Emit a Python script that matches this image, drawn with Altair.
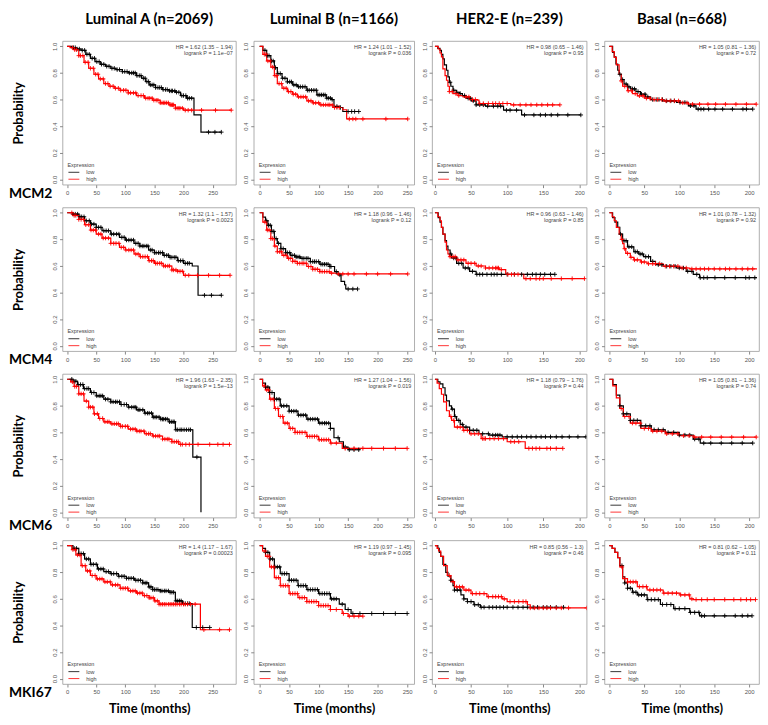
import altair as alt
import pandas as pd

TITLE_FONT = "Lato"
SMALL_FONT = "Liberation Sans"

COL_TITLES = ["Luminal A (n=2069)", "Luminal B (n=1166)", "HER2-E (n=239)", "Basal (n=668)"]
ROW_GENES = ["MCM2", "MCM4", "MCM6", "MKI67"]
X_DOMAINS = [[-8, 290], [-10, 262], [-4, 210], [-7, 214]]
X_TICKS = [[0, 50, 100, 150, 200, 250], [0, 50, 100, 150, 200, 250],
           [0, 50, 100, 150, 200], [0, 50, 100, 150, 200]]
Y_TICKS = [0.0, 0.2, 0.4, 0.6, 0.8, 1.0]
WIDTHS = [175, 162, 156, 156]
H = 145

# ---------------- MCM2 ----------------
M2_LA_LOW = [(0, 1.0), (8, 0.99), (16, 0.98), (24, 0.97), (32, 0.94), (40, 0.91), (48, 0.885), (57, 0.865),
             (66, 0.85), (75, 0.835), (84, 0.825), (95, 0.81), (105, 0.8), (119, 0.78), (128, 0.76), (135, 0.735),
             (141, 0.71), (152, 0.69), (164, 0.675), (175, 0.665), (186, 0.655), (195, 0.63), (205, 0.61),
             (218, 0.485), (230, 0.355), (265, 0.355)]
M2_LA_HIGH = [(0, 1.0), (5, 0.99), (12, 0.975), (20, 0.93), (29, 0.88), (37, 0.835), (46, 0.79), (54, 0.755),
              (63, 0.72), (72, 0.7), (81, 0.685), (91, 0.67), (105, 0.65), (119, 0.63), (133, 0.61), (147, 0.595),
              (160, 0.575), (175, 0.56), (186, 0.535), (200, 0.52), (282, 0.52)]
M2_LA_LOW_C = [11, 14, 17, 21, 26, 30, 34, 38, 43, 47, 51, 55, 59, 63, 68, 72, 77, 81, 86, 90, 95, 99, 103, 107,
               111, 114, 117, 120, 124, 127, 131, 134, 137, 140, 143, 146, 149, 152, 156, 159, 162, 165, 169, 172,
               176, 179, 181, 185, 188, 192, 197, 200, 204, 207, 210, 214, 243, 254, 265]
M2_LA_HIGH_C = [9, 13, 16, 20, 23, 27, 31, 36, 40, 45, 49, 53, 57, 62, 66, 70, 74, 79, 83, 88, 92, 97, 101, 105,
                109, 114, 118, 122, 127, 131, 135, 139, 142, 146, 149, 153, 156, 160, 163, 166, 168, 171, 174, 177,
                179, 181, 183, 186, 189, 192, 194, 198, 203, 208, 214, 231, 255, 282]

M2_LB_LOW = [(0, 1.0), (5.5, 0.97), (12, 0.93), (19, 0.89), (25, 0.84), (30, 0.795), (38, 0.76), (47, 0.733),
             (56, 0.71), (64, 0.696), (80, 0.67), (97, 0.635), (113, 0.61), (122, 0.6), (126, 0.548), (135, 0.54),
             (141, 0.51), (168, 0.51)]
M2_LB_HIGH = [(0, 1.0), (5.5, 0.94), (12, 0.89), (19, 0.844), (25, 0.78), (30, 0.72), (38, 0.685), (47, 0.66),
              (56, 0.64), (64, 0.62), (80, 0.59), (90, 0.575), (102, 0.56), (124, 0.54), (141, 0.523),
              (147.5, 0.454), (251, 0.454)]
M2_LB_LOW_C = [9, 13, 16, 20, 23, 27, 31, 35, 39, 43, 47, 51, 54, 58, 62, 66, 69, 73, 77, 81, 84, 88, 92, 96, 99,
               102, 105, 108, 111, 114, 117, 120, 123, 131, 137, 150, 156, 161, 168]
M2_LB_HIGH_C = [8, 11, 14, 18, 22, 26, 29, 33, 37, 41, 45, 49, 53, 57, 61, 66, 70, 74, 78, 83, 87, 91, 95, 100,
                104, 108, 112, 116, 119, 123, 127, 131, 135, 152, 158, 163, 175, 214, 251]

M2_H2_LOW = [(0, 1.0), (4, 0.985), (7, 0.97), (9, 0.94), (11, 0.905), (13, 0.86), (16, 0.82), (18, 0.77),
             (20, 0.73), (22, 0.70), (25, 0.67), (30, 0.655), (34, 0.645), (38, 0.63), (43, 0.61), (50, 0.59),
             (57, 0.56), (70, 0.55), (95, 0.52), (120, 0.484), (202, 0.484)]
M2_H2_HIGH = [(0, 1.0), (4.5, 0.98), (7, 0.95), (9, 0.92), (11, 0.83), (14, 0.78), (16, 0.745), (18, 0.70),
              (20, 0.66), (25, 0.645), (32, 0.63), (39, 0.62), (48, 0.60), (59, 0.595), (61, 0.57), (105, 0.56),
              (173, 0.56)]
M2_H2_LOW_C = [21, 26, 30, 35, 41, 46, 49, 53, 57, 62, 67, 73, 81, 87, 91, 99, 104, 113, 124, 137, 146, 153, 161,
               170, 184, 202]
M2_H2_HIGH_C = [20, 24, 29, 33, 43, 47, 52, 56, 62, 67, 74, 80, 84, 89, 94, 100, 109, 118, 126, 133, 141, 148, 156,
                163, 173]

M2_BA_LOW = [(0, 1.0), (4.7, 0.955), (7, 0.92), (9.4, 0.867), (12, 0.82), (14, 0.79), (17, 0.75), (21, 0.716),
             (26, 0.695), (30.5, 0.68), (38, 0.66), (44.6, 0.64), (52, 0.62), (59, 0.6), (77, 0.59), (96, 0.578),
             (113, 0.553), (124, 0.528), (205, 0.528)]
M2_BA_HIGH = [(0, 1.0), (4, 0.96), (7, 0.917), (10, 0.86), (14, 0.79), (17, 0.74), (19, 0.70), (26, 0.666),
              (33, 0.645), (40, 0.628), (50, 0.61), (59, 0.6), (77, 0.59), (101, 0.575), (113, 0.565), (210, 0.565)]
M2_BA_LOW_C = [15, 19, 24, 28, 33, 36, 41, 46, 51, 55, 62, 67, 71, 76, 82, 88, 93, 101, 108, 116, 121, 127, 131,
               135, 142, 151, 162, 176, 191, 196, 205]
M2_BA_HIGH_C = [17, 22, 27, 32, 37, 43, 48, 53, 58, 64, 69, 75, 81, 87, 93, 99, 105, 111, 119, 129, 141, 152, 166,
                181, 196, 210]

# ---------------- MCM4 ----------------
M4_LA_LOW = [(0, 1.0), (10, 0.99), (20, 0.97), (30, 0.94), (40, 0.915), (50, 0.89), (60, 0.865), (75, 0.84),
             (90, 0.815), (100, 0.795), (115, 0.77), (125, 0.75), (140, 0.72), (150, 0.7), (165, 0.68),
             (175, 0.665), (190, 0.64), (200, 0.62), (215, 0.6), (225, 0.38), (265, 0.38)]
M4_LA_HIGH = [(0, 1.0), (10, 0.98), (20, 0.95), (30, 0.91), (40, 0.87), (50, 0.84), (60, 0.81), (75, 0.77),
              (90, 0.74), (100, 0.72), (115, 0.69), (125, 0.67), (140, 0.64), (150, 0.62), (165, 0.6), (180, 0.57),
              (190, 0.56), (200, 0.53), (280, 0.53)]
M4_LA_LOW_C = [10, 14, 18, 22, 25, 29, 33, 38, 42, 46, 50, 54, 58, 63, 67, 71, 76, 80, 85, 89, 94, 98, 102, 106,
               110, 114, 118, 122, 125, 129, 132, 136, 139, 143, 146, 150, 153, 157, 160, 164, 167, 171, 174, 177,
               180, 184, 187, 191, 195, 199, 203, 207, 210, 236, 248, 265]
M4_LA_HIGH_C = [8, 12, 15, 20, 24, 28, 32, 37, 41, 45, 49, 54, 58, 62, 66, 71, 75, 80, 84, 89, 93, 97, 101, 106,
                110, 114, 118, 122, 126, 130, 134, 138, 141, 145, 148, 152, 155, 159, 162, 166, 169, 173, 176, 180,
                183, 187, 190, 194, 198, 203, 209, 224, 243, 262, 280]

M4_LB_LOW = [(0, 1.0), (5.5, 0.968), (10, 0.94), (14, 0.906), (20, 0.86), (25, 0.806), (30, 0.77), (36, 0.73),
             (44, 0.70), (52, 0.68), (60, 0.668), (69, 0.657), (86, 0.633), (102, 0.613), (119, 0.596),
             (127, 0.558), (133, 0.533), (138, 0.484), (144, 0.459), (146, 0.427), (166, 0.427)]
M4_LB_HIGH = [(0, 1.0), (5.5, 0.93), (12, 0.87), (19, 0.806), (25, 0.75), (30, 0.707), (38, 0.68), (47, 0.657),
              (56, 0.635), (64, 0.62), (80, 0.596), (90, 0.575), (102, 0.558), (119, 0.546), (130, 0.54),
              (251, 0.54)]
M4_LB_LOW_C = [12, 15, 18, 21, 24, 28, 32, 36, 40, 44, 47, 51, 55, 59, 62, 65, 68, 72, 75, 79, 82, 86, 90, 93, 96,
               100, 104, 107, 110, 113, 116, 119, 121, 130, 136, 150, 158, 166]
M4_LB_HIGH_C = [9, 13, 16, 19, 22, 26, 30, 34, 37, 41, 45, 49, 52, 56, 60, 64, 68, 72, 75, 79, 83, 87, 90, 94, 98,
                102, 106, 110, 114, 118, 122, 134, 141, 150, 160, 181, 200, 222, 251]

M4_H2_LOW = [(0, 1.0), (4.5, 0.963), (7, 0.93), (9, 0.89), (11, 0.84), (14, 0.79), (16, 0.75), (18, 0.72),
             (21, 0.69), (23, 0.66), (30, 0.62), (39, 0.585), (48, 0.56), (57, 0.537), (166, 0.537)]
M4_H2_HIGH = [(0, 1.0), (4, 0.97), (7, 0.94), (9, 0.89), (11, 0.84), (14, 0.78), (16, 0.72), (18, 0.69),
              (20, 0.67), (30, 0.646), (43, 0.62), (57, 0.6), (70, 0.585), (89, 0.573), (98, 0.537), (123, 0.505),
              (207, 0.505)]
M4_H2_LOW_C = [22, 26, 29, 33, 37, 42, 46, 52, 58, 62, 66, 72, 78, 82, 86, 92, 100, 110, 120, 128, 135, 140, 146,
               152, 160, 166]
M4_H2_HIGH_C = [21, 25, 28, 32, 36, 40, 46, 50, 55, 60, 64, 70, 75, 80, 84, 86, 88, 92, 101, 106, 110, 115, 126,
                132, 140, 145, 150, 161, 175, 190, 207]

M4_BA_LOW = [(0, 1.0), (4.7, 0.963), (8, 0.93), (12, 0.89), (15, 0.84), (19, 0.79), (26, 0.744), (35, 0.707),
             (42, 0.69), (49, 0.67), (59, 0.634), (66, 0.61), (77, 0.598), (96, 0.585), (110, 0.56), (120, 0.537),
             (129, 0.512), (211, 0.512)]
M4_BA_HIGH = [(0, 1.0), (4, 0.97), (7, 0.94), (10, 0.89), (14, 0.84), (17, 0.80), (19, 0.768), (21, 0.73),
              (23.5, 0.695), (30, 0.665), (35, 0.646), (45, 0.63), (54, 0.617), (77, 0.598), (101, 0.585),
              (115, 0.578), (211, 0.578)]
M4_BA_LOW_C = [16, 21, 24, 28, 32, 37, 40, 44, 47, 52, 56, 62, 70, 75, 82, 88, 94, 100, 106, 112, 118, 125, 130,
               135, 140, 151, 165, 180, 195, 200, 208]
M4_BA_HIGH_C = [18, 22, 26, 31, 36, 40, 46, 50, 56, 62, 66, 72, 80, 86, 92, 98, 104, 110, 118, 124, 130, 136, 142,
                150, 158, 166, 172, 181, 190, 198, 205]

# ---------------- MCM6 ----------------
M6_LA_LOW = [(0, 1.0), (10, 0.985), (18, 0.96), (28, 0.93), (40, 0.9), (50, 0.875), (63, 0.85), (75, 0.83),
             (91, 0.81), (105, 0.79), (119, 0.77), (133, 0.745), (147, 0.715), (160, 0.70), (175, 0.68),
             (186, 0.62), (216, 0.415), (230, 0.0)]
M6_LA_HIGH = [(0, 1.0), (6, 0.98), (12, 0.946), (20, 0.89), (29, 0.836), (37, 0.79), (46, 0.74), (54, 0.705),
              (63, 0.68), (75, 0.665), (91, 0.646), (105, 0.625), (119, 0.61), (133, 0.59), (147, 0.573),
              (164, 0.55), (180, 0.53), (192, 0.51), (279, 0.51)]
M6_LA_LOW_C = [8, 12, 15, 19, 23, 27, 30, 34, 37, 42, 46, 51, 55, 58, 61, 66, 70, 75, 79, 83, 86, 90, 93, 98, 102,
               106, 111, 115, 118, 122, 125, 130, 134, 138, 141, 145, 148, 151, 154, 158, 161, 164, 166, 169, 172,
               176, 179, 182, 184, 187, 190, 194, 197, 201, 205, 209, 212, 223]
M6_LA_HIGH_C = [9, 13, 16, 20, 24, 28, 33, 37, 40, 44, 47, 52, 56, 61, 65, 69, 72, 77, 81, 85, 88, 92, 95, 100,
                104, 109, 113, 117, 120, 124, 127, 132, 136, 140, 143, 148, 152, 156, 159, 164, 168, 172, 175, 180,
                184, 188, 191, 195, 198, 204, 210, 225, 245, 259, 268, 279]

M6_LB_LOW = [(0, 1.0), (5, 0.97), (10, 0.94), (17, 0.9), (25, 0.85), (35, 0.8), (50, 0.76), (65, 0.73),
             (80, 0.7), (100, 0.67), (120, 0.63), (126, 0.56), (135, 0.53), (142, 0.49), (150, 0.47), (170, 0.47)]
M6_LB_HIGH = [(0, 1.0), (5, 0.95), (10, 0.92), (17, 0.85), (25, 0.78), (32, 0.72), (40, 0.67), (50, 0.63),
              (60, 0.6), (80, 0.57), (100, 0.545), (120, 0.52), (140, 0.48), (250, 0.48)]
M6_LB_LOW_C = [10, 14, 17, 21, 25, 29, 33, 37, 41, 46, 50, 54, 58, 62, 66, 70, 74, 78, 82, 86, 90, 94, 98, 102,
               106, 110, 113, 117, 120, 133, 145, 152, 160, 168]
M6_LB_HIGH_C = [8, 12, 15, 19, 23, 27, 31, 35, 39, 43, 47, 52, 56, 60, 64, 68, 72, 77, 81, 85, 89, 93, 97, 101,
                105, 109, 113, 117, 121, 130, 145, 160, 175, 190, 210, 230, 250]

M6_H2_LOW = [(0, 1.0), (4, 0.98), (7, 0.965), (11, 0.936), (14, 0.88), (16, 0.837), (20, 0.8), (23, 0.775),
             (27, 0.72), (30, 0.69), (35, 0.66), (39, 0.64), (48, 0.616), (61, 0.59), (75, 0.58), (93, 0.567),
             (209, 0.567)]
M6_H2_HIGH = [(0, 1.0), (3, 0.97), (6, 0.93), (9, 0.887), (12, 0.83), (16, 0.763), (20, 0.72), (23, 0.69),
              (27, 0.64), (39, 0.616), (48, 0.59), (64, 0.554), (100, 0.53), (125, 0.48), (177, 0.48)]
M6_H2_LOW_C = [24, 28, 33, 38, 43, 48, 53, 58, 66, 74, 80, 84, 87, 90, 100, 107, 114, 120, 127, 133, 140, 147, 153,
               160, 168, 176, 186, 198, 209]
M6_H2_HIGH_C = [22, 26, 31, 35, 40, 45, 50, 55, 60, 66, 68, 70, 76, 82, 88, 95, 105, 110, 116, 130, 135, 140, 145,
                155, 160, 168, 177]

M6_BA_LOW = [(0, 1.0), (5, 0.96), (10, 0.88), (15, 0.8), (20, 0.74), (30, 0.69), (45, 0.65), (60, 0.62),
             (80, 0.6), (100, 0.58), (120, 0.55), (130, 0.52), (205, 0.52)]
M6_BA_HIGH = [(0, 1.0), (5, 0.95), (10, 0.86), (15, 0.78), (20, 0.72), (30, 0.67), (45, 0.63), (60, 0.61),
              (80, 0.59), (100, 0.575), (120, 0.565), (210, 0.565)]
M6_BA_LOW_C = [15, 20, 25, 30, 35, 40, 45, 52, 58, 64, 70, 77, 84, 92, 100, 108, 115, 122, 128, 135, 145, 160, 175,
               190, 205]
M6_BA_HIGH_C = [17, 22, 28, 33, 38, 44, 50, 56, 62, 68, 75, 82, 90, 98, 106, 114, 122, 132, 145, 160, 175, 192, 210]

# ---------------- MKI67 ----------------
MK_LA_LOW = [(0, 1.0), (10, 0.98), (20, 0.94), (30, 0.9), (40, 0.86), (52, 0.825), (63, 0.805), (74, 0.79),
             (88, 0.77), (102, 0.755), (116, 0.74), (130, 0.72), (140, 0.69), (147, 0.67), (160, 0.66),
             (175, 0.65), (186, 0.585), (198, 0.565), (215, 0.385), (245, 0.385)]
MK_LA_HIGH = [(0, 1.0), (8, 0.97), (15, 0.93), (24, 0.85), (32, 0.81), (40, 0.776), (50, 0.75), (63, 0.728),
              (75, 0.705), (91, 0.68), (105, 0.66), (119, 0.644), (130, 0.625), (141, 0.608), (150, 0.585),
              (158, 0.56), (229, 0.368), (279, 0.368)]
MK_LA_LOW_C = [12, 16, 20, 24, 28, 33, 37, 41, 45, 50, 54, 58, 62, 67, 71, 76, 80, 85, 89, 94, 98, 102, 106, 110,
               114, 118, 122, 126, 130, 134, 137, 141, 144, 147, 150, 153, 156, 160, 163, 167, 170, 174, 177, 180,
               183, 187, 190, 193, 196, 200, 203, 207, 210, 222, 233, 245]
MK_LA_HIGH_C = [10, 14, 18, 22, 26, 31, 35, 39, 43, 48, 52, 56, 60, 65, 69, 74, 78, 83, 87, 92, 96, 100, 104, 109,
                113, 117, 121, 125, 129, 133, 137, 141, 144, 148, 151, 155, 158, 161, 164, 167, 170, 174, 177, 180,
                183, 186, 189, 193, 196, 200, 203, 207, 212, 220, 235, 262, 279]

MK_LB_LOW = [(0, 1.0), (5, 0.98), (10, 0.95), (17, 0.9), (25, 0.84), (35, 0.79), (50, 0.74), (65, 0.7),
             (80, 0.67), (100, 0.64), (120, 0.6), (135, 0.56), (145, 0.52), (155, 0.49), (250, 0.49)]
MK_LB_HIGH = [(0, 1.0), (5, 0.96), (10, 0.92), (17, 0.84), (25, 0.76), (35, 0.7), (50, 0.64), (65, 0.61),
              (80, 0.58), (100, 0.55), (120, 0.52), (140, 0.49), (150, 0.47), (175, 0.47)]
MK_LB_LOW_C = [10, 14, 18, 22, 26, 30, 34, 38, 42, 46, 50, 54, 58, 62, 66, 70, 74, 78, 82, 86, 90, 94, 98, 102,
               106, 110, 114, 118, 122, 126, 130, 140, 150, 158, 170, 190, 210, 230, 250]
MK_LB_HIGH_C = [9, 13, 16, 20, 24, 28, 32, 36, 40, 44, 48, 52, 56, 60, 64, 68, 72, 76, 80, 84, 88, 92, 96, 100,
                104, 108, 112, 116, 120, 130, 142, 152, 160, 168, 175]

MK_H2_LOW = [(0, 1.0), (4, 0.98), (6, 0.95), (8, 0.92), (11, 0.86), (15, 0.8), (18, 0.77), (22, 0.74), (25, 0.70),
             (27, 0.666), (36, 0.63), (40, 0.6), (45, 0.58), (54, 0.556), (63, 0.537), (178, 0.537)]
MK_H2_HIGH = [(0, 1.0), (3, 0.98), (5, 0.96), (8, 0.92), (12, 0.85), (17, 0.776), (22, 0.73), (27, 0.69),
              (40, 0.666), (50, 0.64), (72, 0.617), (93, 0.6), (100, 0.58), (128, 0.556), (132, 0.532), (210, 0.532)]
MK_H2_LOW_C = [22, 27, 31, 35, 40, 45, 50, 55, 60, 64, 68, 75, 80, 85, 90, 95, 100, 108, 115, 122, 128, 136, 142,
               150, 155, 160, 168, 178]
MK_H2_HIGH_C = [20, 25, 30, 34, 38, 43, 47, 52, 57, 62, 68, 74, 80, 84, 88, 92, 96, 104, 110, 116, 122, 126, 132,
                138, 144, 150, 155, 160, 168, 175, 185, 210]

MK_BA_LOW = [(0, 1.0), (4, 0.98), (8, 0.95), (12, 0.91), (15, 0.85), (19, 0.765), (22, 0.72), (26, 0.68),
             (33, 0.65), (40, 0.63), (54, 0.595), (73, 0.558), (92, 0.527), (115, 0.498), (129, 0.473), (204, 0.473)]
MK_BA_HIGH = [(0, 1.0), (4, 0.98), (8, 0.95), (12, 0.91), (15, 0.84), (19, 0.753), (26, 0.728), (40, 0.692),
              (54, 0.667), (77, 0.643), (101, 0.63), (115, 0.6), (120, 0.595), (209, 0.595)]
MK_BA_LOW_C = [18, 22, 26, 30, 34, 38, 42, 46, 50, 55, 60, 65, 70, 76, 82, 88, 94, 100, 108, 116, 122, 128, 132,
               136, 150, 165, 180, 190, 198, 204]
MK_BA_HIGH_C = [18, 22, 26, 30, 34, 38, 43, 48, 53, 58, 63, 68, 73, 78, 84, 90, 96, 102, 108, 114, 118, 124, 132,
                140, 150, 165, 178, 188, 196, 202, 209]

HR_TEXT = [
    ["HR = 1.62 (1.35 − 1.94)", "HR = 1.24 (1.01 − 1.52)", "HR = 0.98 (0.65 − 1.46)", "HR = 1.05 (0.81 − 1.36)"],
    ["HR = 1.32 (1.1 − 1.57)", "HR = 1.18 (0.96 − 1.46)", "HR = 0.96 (0.63 − 1.46)", "HR = 1.01 (0.78 − 1.32)"],
    ["HR = 1.96 (1.63 − 2.35)", "HR = 1.27 (1.04 − 1.56)", "HR = 1.18 (0.79 − 1.76)", "HR = 1.05 (0.81 − 1.36)"],
    ["HR = 1.4 (1.17 − 1.67)", "HR = 1.19 (0.97 − 1.45)", "HR = 0.85 (0.56 − 1.3)", "HR = 0.81 (0.62 − 1.05)"],
]
P_TEXT = [
    ["logrank P = 1.1e−07", "logrank P = 0.036", "logrank P = 0.95", "logrank P = 0.72"],
    ["logrank P = 0.0023", "logrank P = 0.12", "logrank P = 0.85", "logrank P = 0.92"],
    ["logrank P = 1.5e−13", "logrank P = 0.019", "logrank P = 0.44", "logrank P = 0.74"],
    ["logrank P = 0.00023", "logrank P = 0.095", "logrank P = 0.46", "logrank P = 0.11"],
]

CURVES = [
    [(M2_LA_LOW, M2_LA_HIGH, M2_LA_LOW_C, M2_LA_HIGH_C), (M2_LB_LOW, M2_LB_HIGH, M2_LB_LOW_C, M2_LB_HIGH_C),
     (M2_H2_LOW, M2_H2_HIGH, M2_H2_LOW_C, M2_H2_HIGH_C), (M2_BA_LOW, M2_BA_HIGH, M2_BA_LOW_C, M2_BA_HIGH_C)],
    [(M4_LA_LOW, M4_LA_HIGH, M4_LA_LOW_C, M4_LA_HIGH_C), (M4_LB_LOW, M4_LB_HIGH, M4_LB_LOW_C, M4_LB_HIGH_C),
     (M4_H2_LOW, M4_H2_HIGH, M4_H2_LOW_C, M4_H2_HIGH_C), (M4_BA_LOW, M4_BA_HIGH, M4_BA_LOW_C, M4_BA_HIGH_C)],
    [(M6_LA_LOW, M6_LA_HIGH, M6_LA_LOW_C, M6_LA_HIGH_C), (M6_LB_LOW, M6_LB_HIGH, M6_LB_LOW_C, M6_LB_HIGH_C),
     (M6_H2_LOW, M6_H2_HIGH, M6_H2_LOW_C, M6_H2_HIGH_C), (M6_BA_LOW, M6_BA_HIGH, M6_BA_LOW_C, M6_BA_HIGH_C)],
    [(MK_LA_LOW, MK_LA_HIGH, MK_LA_LOW_C, MK_LA_HIGH_C), (MK_LB_LOW, MK_LB_HIGH, MK_LB_LOW_C, MK_LB_HIGH_C),
     (MK_H2_LOW, MK_H2_HIGH, MK_H2_LOW_C, MK_H2_HIGH_C), (MK_BA_LOW, MK_BA_HIGH, MK_BA_LOW_C, MK_BA_HIGH_C)],
]

COLOR_SCALE = alt.Scale(domain=["low", "high"], range=["#000000", "#ff0000"])
ONE = pd.DataFrame({"k": [0]})


def step_value(knots, t):
    val = knots[0][1]
    for kt, ks in knots:
        if kt <= t:
            val = ks
    return val


def make_panel(r, c):
    low, high, low_c, high_c = CURVES[r][c]
    W = WIDTHS[c]
    line_rows, cens_rows = [], []
    for grp, knots, cens in (("low", low, low_c), ("high", high, high_c)):
        for t, s in knots:
            line_rows.append({"t": t, "s": s, "grp": grp})
        for t in cens:
            cens_rows.append({"t": t, "s": step_value(knots, t), "grp": grp})
    lines_df = pd.DataFrame(line_rows)
    cens_df = pd.DataFrame(cens_rows)

    x_axis_kw = dict(values=X_TICKS[c], format="d", labelFontSize=6, labelFont=SMALL_FONT, labelColor="#555",
                     tickColor="#888", tickSize=3, labelPadding=2, domain=False, grid=False,
                     labelFlush=False, labelOverlap=False)
    if r == 3:
        x_axis_kw.update(title="Time (months)", titleFont=TITLE_FONT, titleFontSize=13, titleFontWeight="bold",
                         titleColor="#000", titlePadding=8)
    else:
        x_axis_kw.update(title=None)
    y_axis_kw = dict(values=Y_TICKS, format=".1f", labelFontSize=6, labelFont=SMALL_FONT, labelColor="#555",
                     tickColor="#888", tickSize=3, labelPadding=2, labelAngle=270, labelAlign="center",
                     labelBaseline="bottom", domain=False, grid=False, labelFlush=False, labelOverlap=False)
    if c == 0:
        y_axis_kw.update(title="Probability", titleFont=TITLE_FONT, titleFontSize=13, titleFontWeight="bold",
                         titleColor="#000", titleAngle=270, titleX=-44, titleY=H / 2, titleAlign="center",
                         titleBaseline="middle")
    else:
        y_axis_kw.update(title=None)

    X = alt.X("t:Q", scale=alt.Scale(domain=X_DOMAINS[c], nice=False, zero=False), axis=alt.Axis(**x_axis_kw))
    Y = alt.Y("s:Q", scale=alt.Scale(domain=[-0.04, 1.04], nice=False, zero=False), axis=alt.Axis(**y_axis_kw))
    col = alt.Color("grp:N", scale=COLOR_SCALE, legend=None)

    lines = alt.Chart(lines_df).mark_line(interpolate="step-after", strokeWidth=1.2, clip=True).encode(
        x=X, y=Y, color=col, detail="grp:N")
    cens = alt.Chart(cens_df).mark_point(shape="M-1,0L1,0M0,-1L0,1", filled=False, size=20, strokeWidth=0.9,
                                         opacity=1, clip=True).encode(x=X, y=Y, color=col)

    small = dict(font=SMALL_FONT, fontSize=5.5, color="#444")
    hr1 = alt.Chart(ONE).mark_text(text=HR_TEXT[r][c], align="right", baseline="middle", **small).encode(
        x=alt.value(W - 3), y=alt.value(6.5))
    hr2 = alt.Chart(ONE).mark_text(text=P_TEXT[r][c], align="right", baseline="middle", **small).encode(
        x=alt.value(W - 3), y=alt.value(12.5))
    leg_t = alt.Chart(ONE).mark_text(text="Expression", align="left", baseline="middle", **small).encode(
        x=alt.value(5), y=alt.value(H - 20))
    leg_l1 = alt.Chart(ONE).mark_rule(color="#000", strokeWidth=0.8).encode(
        x=alt.value(6), x2=alt.value(17), y=alt.value(H - 12.5))
    leg_l2 = alt.Chart(ONE).mark_rule(color="#ff0000", strokeWidth=0.8).encode(
        x=alt.value(6), x2=alt.value(17), y=alt.value(H - 5.5))
    leg_a = alt.Chart(ONE).mark_text(text="low", align="left", baseline="middle", **small).encode(
        x=alt.value(24), y=alt.value(H - 12.5))
    leg_b = alt.Chart(ONE).mark_text(text="high", align="left", baseline="middle", **small).encode(
        x=alt.value(24), y=alt.value(H - 5.5))

    layers = [lines, cens, hr1, hr2, leg_t, leg_l1, leg_l2, leg_a, leg_b]
    if c == 0:
        gene = alt.Chart(ONE).mark_text(text=ROW_GENES[r], align="left", baseline="middle", font=TITLE_FONT,
                                        fontSize=14, fontWeight="bold", color="#000").encode(
            x=alt.value(-54), y=alt.value(H + 9))
        layers.append(gene)

    props = dict(width=W, height=H)
    if r == 0:
        props["title"] = alt.Title(COL_TITLES[c], font=TITLE_FONT, fontSize=15, fontWeight="bold", color="#000",
                                   anchor="middle", offset=14)
    return alt.layer(*layers).properties(**props)


rows = [alt.hconcat(*[make_panel(r, c) for c in range(4)], spacing=5) for r in range(4)]
chart = alt.vconcat(*rows, spacing=5).properties(
    padding={"left": 0, "top": 0, "right": 0, "bottom": 0}
).configure_view(stroke="#999", strokeWidth=0.8)

chart.save("out.html", embed_options={"renderer": "svg", "actions": False})
